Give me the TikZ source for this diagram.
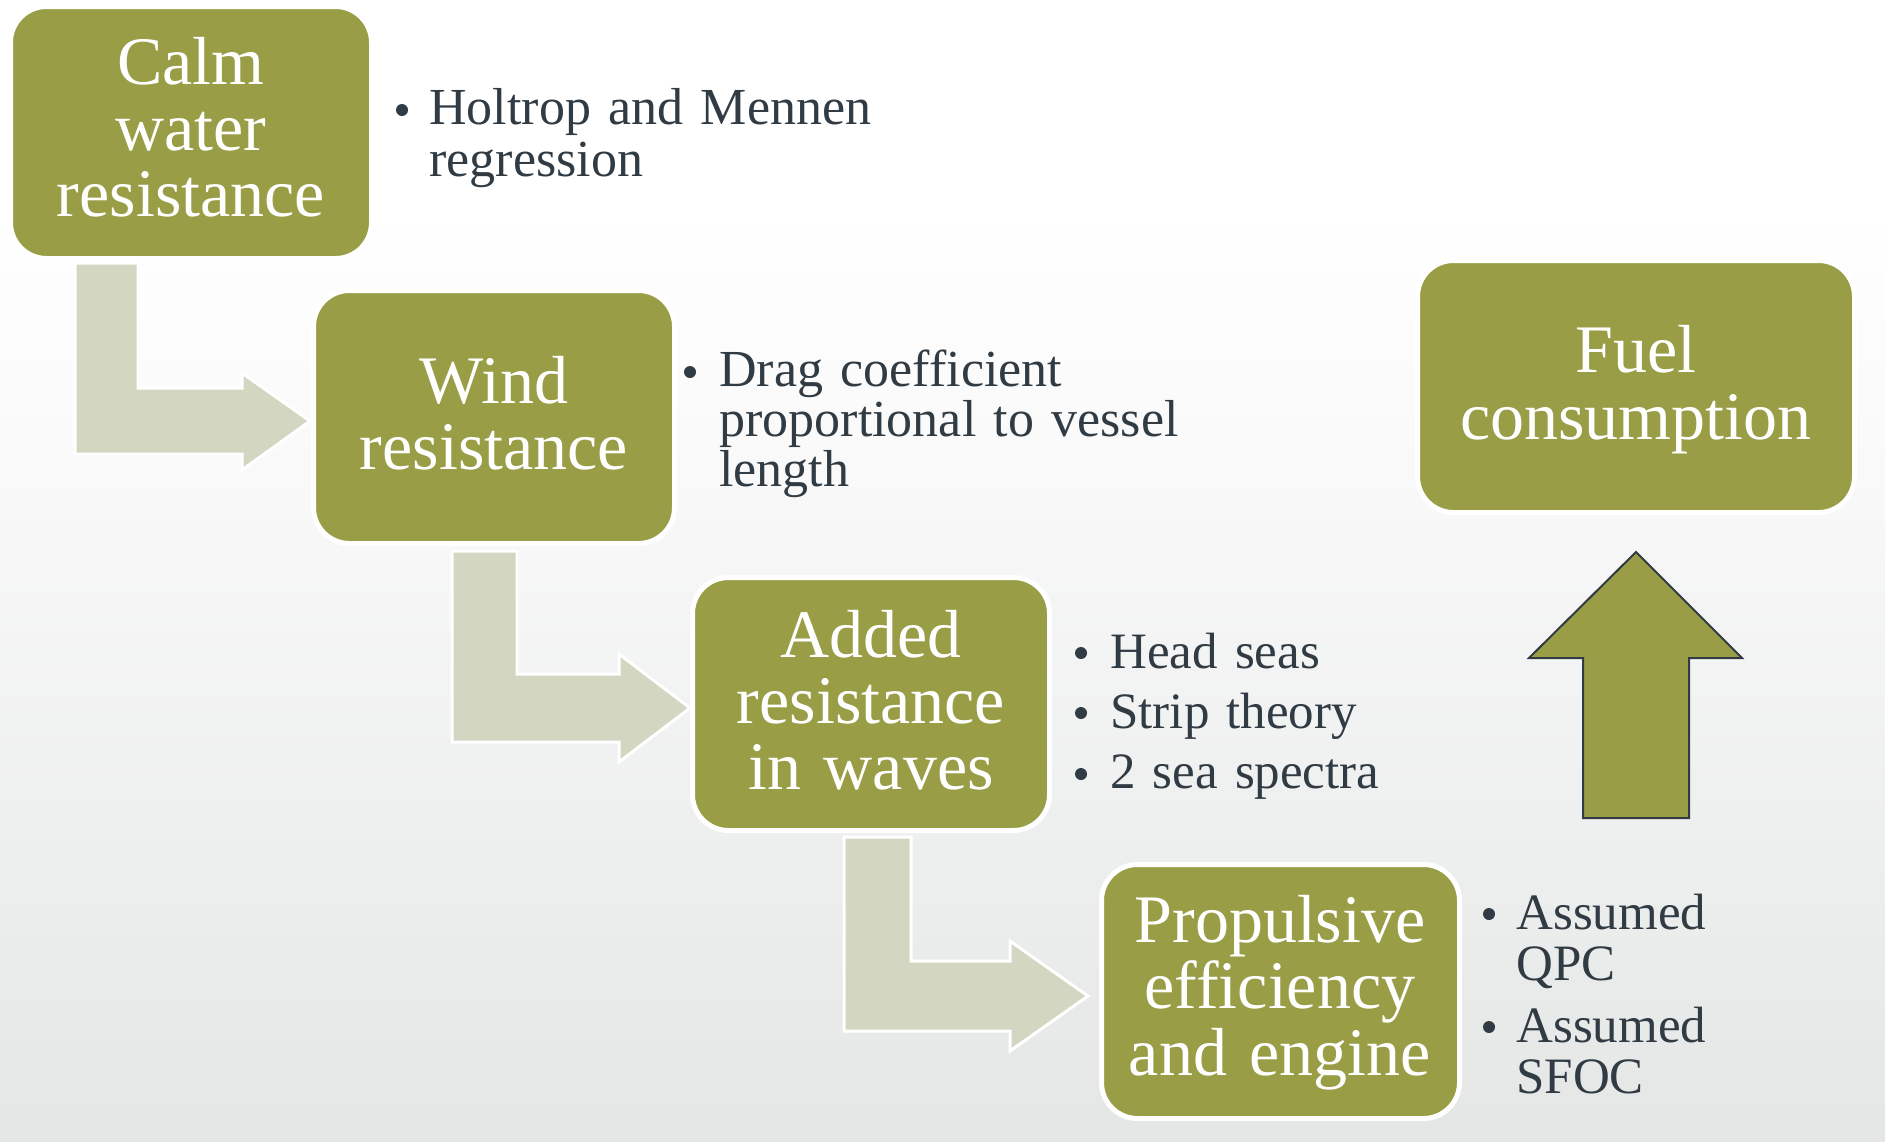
\documentclass[tikz,border=0pt]{standalone}
\usepackage{fontspec}
\setmainfont{Liberation Serif}
\definecolor{boxgreen}{RGB}{153,158,70}
\definecolor{flowarrow}{RGB}{211,215,194}
\definecolor{txtdark}{RGB}{48,59,68}
\definecolor{bgA}{RGB}{221,223,222}
\definecolor{bgB}{RGB}{227,229,228}
\definecolor{bgC}{RGB}{238,239,239}
\definecolor{bgD}{RGB}{250,250,250}
\pgfdeclareverticalshading{bgshade}{100bp}{color(0bp)=(bgA); color(23bp)=(bgB); color(39bp)=(bgC); color(56bp)=(bgD); color(66bp)=(white); color(100bp)=(white)}
\tikzset{
  stagebox/.style={draw=white, line width=2.5pt, fill=boxgreen, rounded corners=18pt, inner sep=0pt},
  boxtext/.style={anchor=base, text=white, text width=210pt, align=center, inner sep=0pt, font=\fontsize{34}{33}\selectfont},
  bullettext/.style={anchor=base west, text=txtdark, text width=260pt, align=left, inner sep=0pt, font=\fontsize{25.5}{25.5}\selectfont},
  bulletdot/.style={fill=txtdark},
  bentarrow/.style={fill=flowarrow, draw=white, line width=1.5pt, line join=miter},
  uparrow/.style={fill=boxgreen, draw=txtdark, line width=1pt, line join=miter}
}
\begin{document}
\begin{tikzpicture}[x=0.5pt,y=-0.5pt]
\useasboundingbox (0,0) rectangle (1885,1141);
\shade[shading=bgshade] (0,0) rectangle (1885,1141);

% bent arrows
\draw[bentarrow] (75,263) -- (138,263) -- (138,388) -- (242,388) -- (242,373) -- (310,421) -- (242,470) -- (242,454) -- (75,454) -- cycle;
\draw[bentarrow] (452,551) -- (517,551) -- (517,674) -- (619,674) -- (619,654) -- (690,708) -- (619,762) -- (619,742) -- (452,742) -- cycle;
\draw[bentarrow] (844,837) -- (911,837) -- (911,961) -- (1010,961) -- (1010,941) -- (1088,996) -- (1010,1051) -- (1010,1031) -- (844,1031) -- cycle;

% up arrow
\draw[uparrow] (1636,552) -- (1742,658) -- (1689,658) -- (1689,818) -- (1583,818) -- (1583,658) -- (1529,658) -- cycle;

% boxes
\node[stagebox, minimum width=180.5pt, minimum height=126pt] (b1) at (191,132.5) {};
\node[stagebox, minimum width=180.5pt, minimum height=126.5pt] (b2) at (494,417) {};
\node[stagebox, minimum width=178.5pt, minimum height=126.5pt] (b3) at (871,704) {};
\node[stagebox, minimum width=179pt, minimum height=127pt] (b4) at (1280.5,991.5) {};
\node[stagebox, minimum width=218.5pt, minimum height=126pt] (b5) at (1636,386.5) {};

% box texts
\node[boxtext] (t1) at (191,84) {Calm\\water\\resistance};
\node[boxtext] (t2) at (494,403) {Wind\\resistance};
\node[boxtext] (t3) at (871,657) {Added\\resistance\\in waves};
\node[boxtext, font=\fontsize{34}{33.3}\selectfont] (t4) at (1280,942) {Propulsive\\efficiency\\and engine};
\node[boxtext, font=\fontsize{34}{33.5}\selectfont] (t5) at (1636,372) {Fuel\\consumption};

% bullets
\fill[bulletdot] (402,110) circle[radius=3pt];
\node[bullettext, font=\fontsize{26}{26}\selectfont] (n1) at (429,124) {Holtrop and Mennen\\regression};
\fill[bulletdot] (690,372) circle[radius=3pt];
\node[bullettext, font=\fontsize{26}{25.2}\selectfont] (n2) at (719,386) {Drag coefficient\\proportional to vessel\\length};
\fill[bulletdot] (1081,653) circle[radius=3pt];
\node[bullettext] (n3a) at (1110,668) {Head seas};
\fill[bulletdot] (1081,713) circle[radius=3pt];
\node[bullettext] (n3b) at (1110,728) {Strip theory};
\fill[bulletdot] (1081,774) circle[radius=3pt];
\node[bullettext] (n3c) at (1110,788) {2 sea spectra};
\fill[bulletdot] (1489,914) circle[radius=3pt];
\node[bullettext] (n4a) at (1516,929) {Assumed\\QPC};
\fill[bulletdot] (1489,1027) circle[radius=3pt];
\node[bullettext] (n4b) at (1516,1042) {Assumed\\SFOC};
\end{tikzpicture}
\end{document}
